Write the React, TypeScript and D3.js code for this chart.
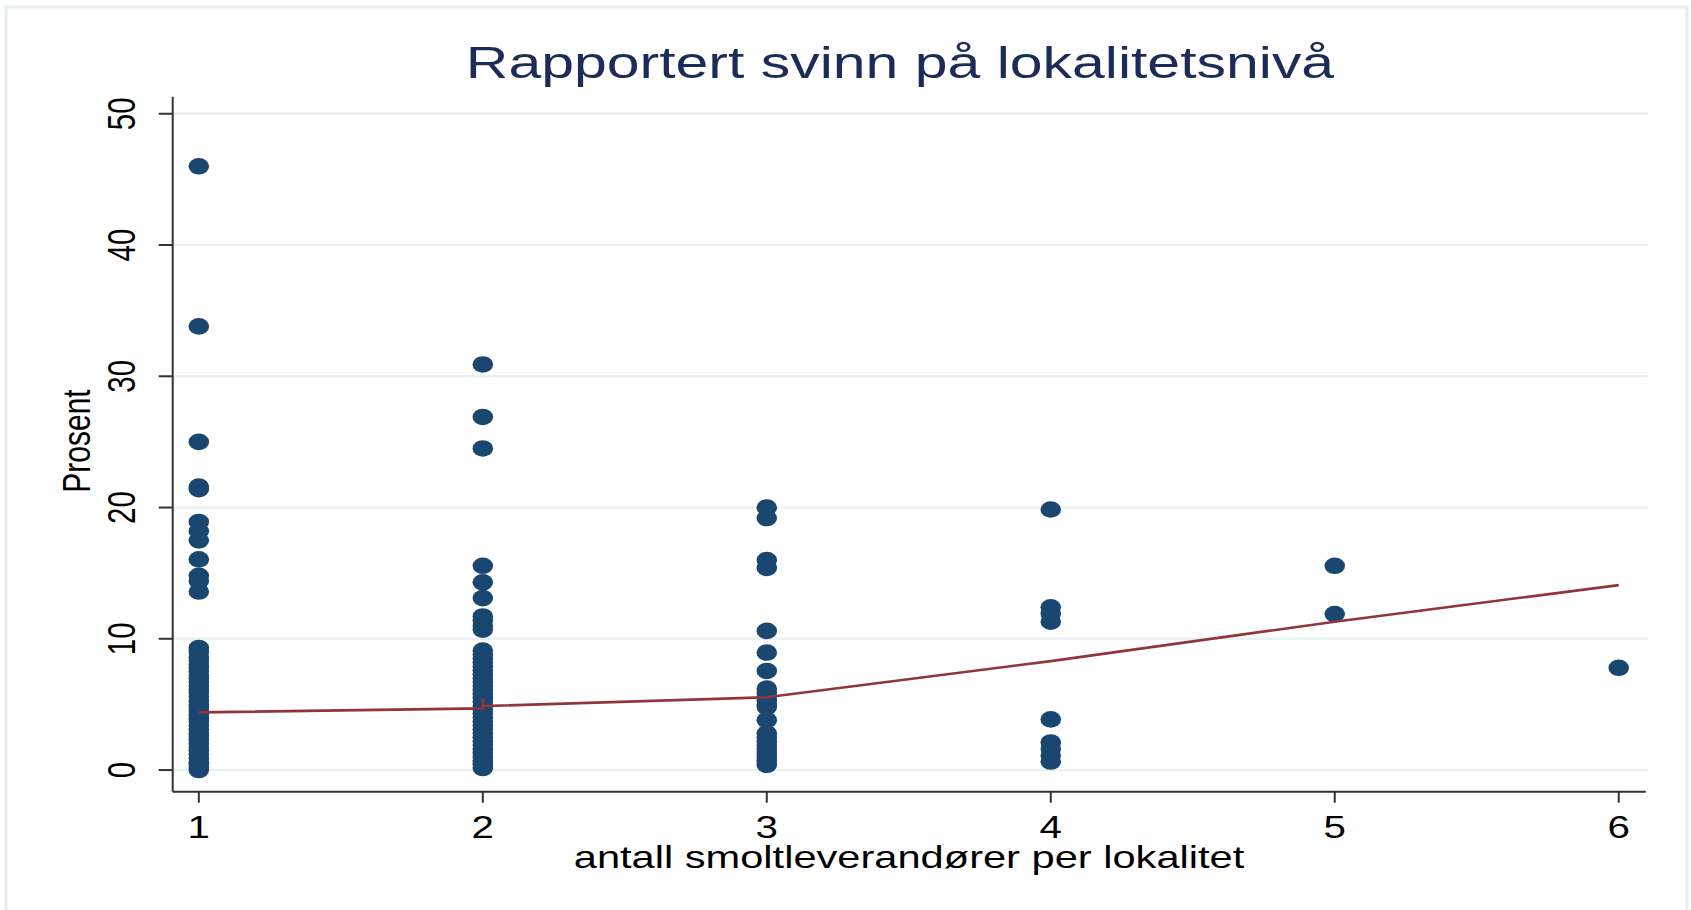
import React from "react";
import * as d3 from "d3";

const title = "Rapportert svinn på lokalitetsnivå";
const xTitle = "antall smoltleverandører per lokalitet";
const yTitle = "Prosent";

const xTicks = [1, 2, 3, 4, 5, 6];
const yTicks = [0, 10, 20, 30, 40, 50];

const group1 = [46.0, 33.8, 25.0, 21.6, 21.4, 18.9, 18.2, 17.5, 16.05, 14.8, 14.4, 13.6, 9.3, 9.0, 8.6, 8.3, 8.0, 7.8, 7.5, 7.2, 7.0, 6.7, 6.4, 6.1, 5.9, 5.6, 5.3, 5.0, 4.8, 4.5, 4.2, 3.9, 3.7, 3.4, 3.1, 2.8, 2.6, 2.3, 2.0, 1.7, 1.5, 1.2, 0.9, 0.6, 0.4, 0.2, 0.0];
const group2 = [30.9, 26.9, 24.5, 15.56, 14.3, 13.1, 11.7, 11.4, 11.0, 10.7, 9.1, 8.8, 8.5, 8.2, 7.9, 7.6, 7.3, 7.0, 6.7, 6.4, 6.1, 5.8, 5.5, 5.2, 4.9, 4.6, 4.3, 4.0, 3.7, 3.4, 3.1, 2.8, 2.5, 2.2, 1.9, 1.6, 1.3, 1.0, 0.7, 0.4, 0.15];
const group3 = [20.0, 19.2, 16.0, 15.4, 10.6, 8.95, 7.55, 6.2, 5.9, 5.6, 5.3, 5.0, 4.8, 3.8, 2.8, 2.5, 2.2, 1.9, 1.6, 1.3, 1.0, 0.7, 0.4];
const group4 = [19.85, 12.4, 11.9, 11.3, 3.86, 2.1, 1.6, 1.1, 0.65];
const group5 = [15.56, 11.88];
const group6 = [7.79];
const groups = [group1, group2, group3, group4, group5, group6];

const fitX = [1, 2, 2, 2, 3, 4, 5, 6];
const fitY = [4.39, 4.7, 5.46, 4.87, 5.54, 8.3, 11.3, 14.09];

const W = 1691;
const H = 910;
const SX = 1.3;
const FONT = "'Liberation Sans', Arial, sans-serif";

export default function App() {
  const x = d3.scaleLinear().domain([0.908, 6.095]).range([172.7, 1645.7]);
  const y = d3.scaleLinear().domain([-1.65, 51.3]).range([791.7, 96.7]);

  const points: { cx: number; cy: number }[] = [];
  groups.forEach((g, i) => {
    g.forEach((v) => points.push({ cx: x(xTicks[i]), cy: y(v) }));
  });

  const line = d3
    .line<number>()
    .x((_, i) => x(fitX[i]))
    .y((d) => y(d));

  const [x0, x1] = x.range();
  const [yb, yt] = y.range();

  return (
    <svg
      width={W}
      height={H}
      style={{ position: "absolute", left: 0, top: 0, display: "block", background: "#fff" }}
      fontFamily={FONT}
    >
      <rect x={0} y={0} width={W} height={H} fill="#ffffff" />
      <rect x={6} y={7} width={1681} height={920} fill="#ffffff" stroke="#e7eef1" strokeWidth={3} />

      {/* gridlines */}
      {yTicks.map((t) => (
        <line key={"g" + t} x1={x0} x2={1647.7} y1={y(t)} y2={y(t)} stroke="#eaf1f3" strokeWidth={2.5} />
      ))}

      {/* points */}
      {points.map((p, i) => (
        <ellipse key={i} cx={p.cx} cy={p.cy} rx={10.3} ry={8.3} fill="#1a476f" />
      ))}

      {/* fit line */}
      <path d={line(fitY) || ""} fill="none" stroke="#90353b" strokeWidth={2.6} />

      {/* axes */}
      <line x1={x0} x2={x0} y1={yt} y2={yb} stroke="#333" strokeWidth={2} />
      <line x1={x0} x2={x1} y1={yb} y2={yb} stroke="#333" strokeWidth={2} />

      {yTicks.map((t) => (
        <g key={"yt" + t}>
          <line x1={x0 - 14} x2={x0} y1={y(t)} y2={y(t)} stroke="#333" strokeWidth={2} />
          <text
            transform={`translate(135,${y(t)}) scale(${SX},1) rotate(-90)`}
            textAnchor="middle"
            fontSize={29.5}
            fill="#000"
          >
            {t}
          </text>
        </g>
      ))}

      {xTicks.map((t) => (
        <g key={"xt" + t}>
          <line x1={x(t)} x2={x(t)} y1={yb} y2={yb + 11} stroke="#333" strokeWidth={2} />
          <text
            transform={`translate(${x(t)},838.3) scale(${SX},1)`}
            textAnchor="middle"
            fontSize={31}
            fill="#000"
          >
            {t}
          </text>
        </g>
      ))}

      <text
        transform={`translate(909,868) scale(${SX},1)`}
        textAnchor="middle"
        fontSize={32}
        fill="#000"
      >
        {xTitle}
      </text>

      <text
        transform={`translate(90,441) scale(${SX},1) rotate(-90)`}
        textAnchor="middle"
        fontSize={30}
        fill="#000"
      >
        {yTitle}
      </text>

      <text
        transform={`translate(900,78.3) scale(1.31,1)`}
        textAnchor="middle"
        fontSize={45}
        fill="#1c2b57"
      >
        {title}
      </text>
    </svg>
  );
}
